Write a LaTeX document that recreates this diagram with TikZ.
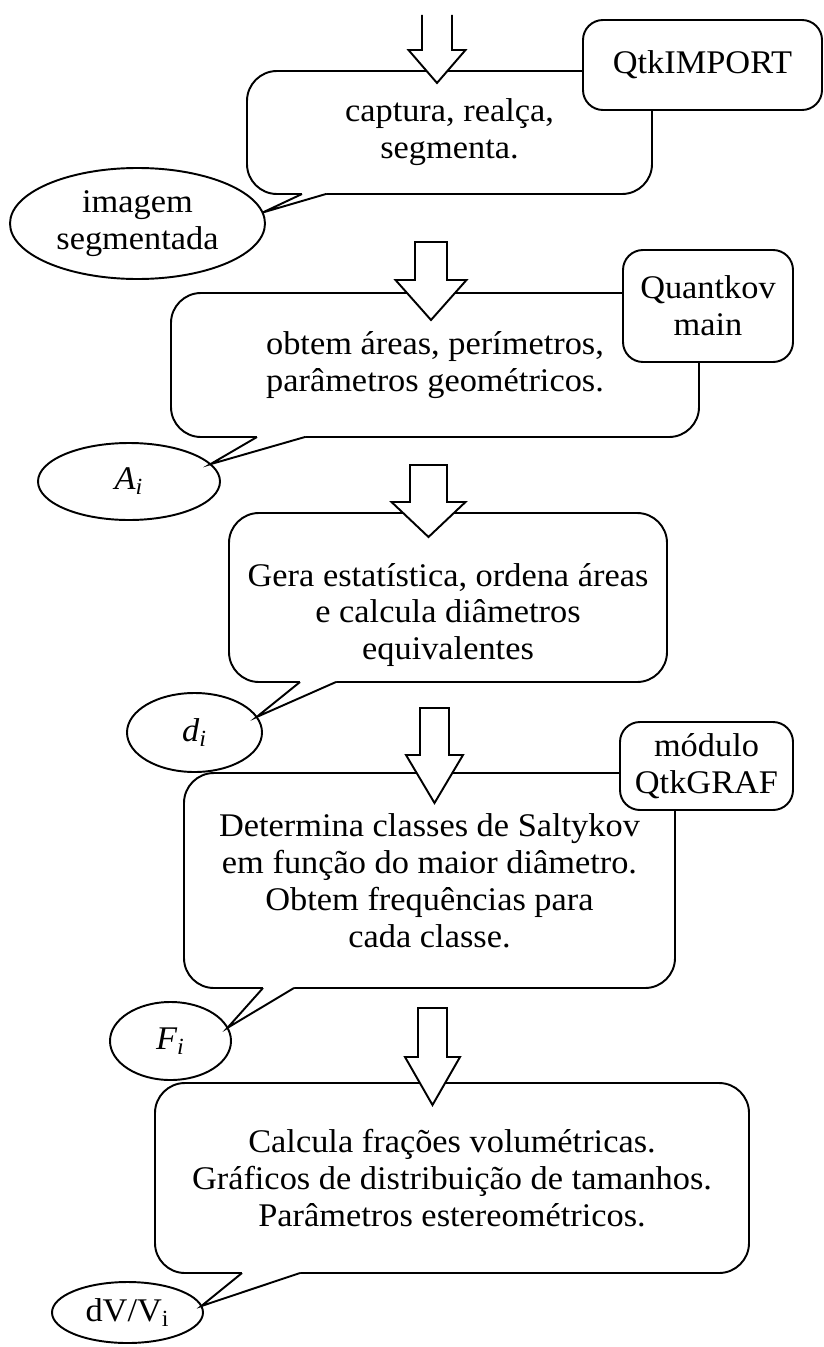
\documentclass[tikz,border=0pt]{standalone}
\usepackage{fontspec}
\setmainfont{Liberation Serif}[FakeStretch=1.04]
\usetikzlibrary{shapes.geometric}

\tikzset{
  body/.style={draw, rounded corners=6mm, outer sep=0pt, align=center, fill=white},
  tag/.style={draw, rounded corners=4mm, outer sep=0pt, align=center, fill=white},
  blob/.style={draw, ellipse, inner sep=0pt, outer sep=0pt, align=center, fill=white},
  txt/.style={align=center, inner sep=0pt},
}

\begin{document}
\begin{tikzpicture}[x=0.2mm, y=-0.2mm, line width=1.1pt, font=\fontsize{18.8}{21}\selectfont]
  \useasboundingbox (0,0) rectangle (824,1347);
  % callout bodies
  \node[body, minimum width=81mm, minimum height=24.6mm] (c1) at (449.5,132.5) {captura, realça,\\segmenta.};
  \node[body, minimum width=105.6mm, minimum height=28.8mm] (c2) at (435,365) {obtem áreas, perímetros,\\parâmetros geométricos.};
  \node[body, minimum width=87.6mm, minimum height=33.8mm] (c3) at (448,597.5) {};
  \node[txt] (t3) at (448,615) {Gera estatística, ordena áreas\\e calcula diâmetros\\equivalentes};
  \node[body, minimum width=98.2mm, minimum height=43mm] (c4) at (429.5,880.5) {Determina classes de Saltykov\\em função do maior diâmetro.\\Obtem frequências para\\cada classe.};
  \node[body, minimum width=118.8mm, minimum height=38mm] (c5) at (452,1178) {Calcula frações volumétricas.\\Gráficos de distribuição de tamanhos.\\Parâmetros estereométricos.};
  % program tags
  \node[tag, minimum width=47.8mm, minimum height=18mm] (qtkimport) at (702.5,65) {QtkIMPORT};
  \node[tag, minimum width=34mm, minimum height=22.4mm] (quantkov) at (708,306) {Quantkov\\main};
  \node[tag, minimum width=34.6mm, minimum height=17.6mm] (qtkgraf) at (706.5,766) {módulo\\QtkGRAF};
  % outputs
  \node[blob, minimum width=51mm, minimum height=22.2mm] (e1) at (137.5,223.5) {imagem\\segmentada};
  \node[blob, minimum width=36.4mm, minimum height=15.4mm] (e2) at (129,481.5) {\textit{A\textsubscript{i}}};
  \node[blob, minimum width=27mm, minimum height=15.8mm] (e3) at (194.5,732.5) {\textit{d\textsubscript{i}}};
  \node[blob, minimum width=24.2mm, minimum height=15.6mm] (e4) at (170.5,1041) {\textit{F\textsubscript{i}}};
  \node[blob, minimum width=30.2mm, minimum height=12.2mm] (e5) at (127.5,1312.5) {dV/V\textsubscript{i}};
  % callout pointers
  \foreach \c/\e/\a/\p/\q in {c1/e1/5/11/15.8, c2/e2/12/17.2/26.8, c3/e3/14/14.2/21.4, c4/e4/13/15.8/22, c5/e5/5/17.4/29} {
    \fill[white] ([xshift=\p mm, yshift=1mm]\c.south west) -- ([xshift=\p mm]\c.south west) -- (\e.\a)
      -- ([xshift=\q mm]\c.south west) -- ([xshift=\q mm, yshift=1mm]\c.south west) -- cycle;
    \draw ([xshift=\p mm]\c.south west) -- (\e.\a) -- ([xshift=\q mm]\c.south west);
  }
  % block arrows
  \filldraw[fill=white] (422,15) -- (422,50) -- (408.5,50) -- (437,83) -- (465.5,50) -- (452,50) -- (452,15);
  \foreach \xa/\ya/\yb/\yc/\sw/\hw in {431/242/280/320/16/35.5, 428.5/465/502/537/18.5/37, 434.5/708/755/803/14.5/28.5, 432.5/1008/1057/1105/14.5/27.5} {
    \filldraw[fill=white] ({\xa-\sw},\ya) -- ({\xa-\sw},\yb) -- ({\xa-\hw},\yb) -- (\xa,\yc)
      -- ({\xa+\hw},\yb) -- ({\xa+\sw},\yb) -- ({\xa+\sw},\ya) -- cycle;
  }
\end{tikzpicture}
\end{document}
